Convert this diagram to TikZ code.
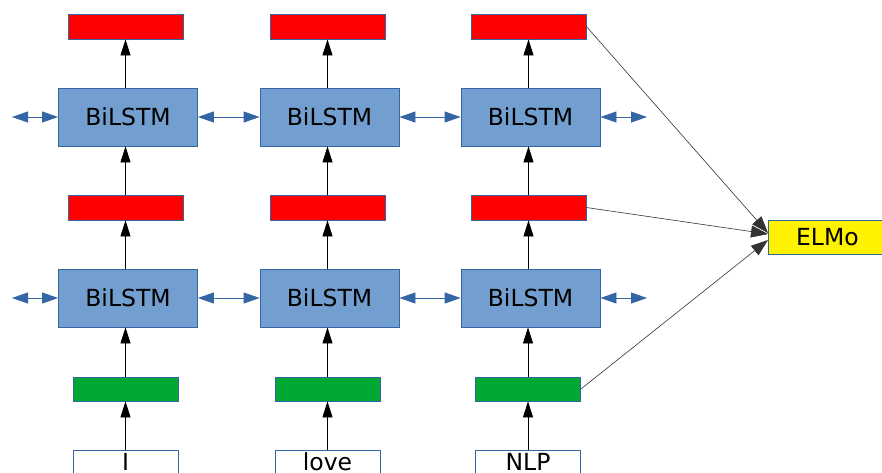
\documentclass[tikz,border=0pt]{standalone}
\usepackage{fontspec}
\setmainfont{DejaVu Sans}
\usetikzlibrary{arrows.meta}
\definecolor{lstm}{HTML}{729FCF}
\definecolor{edge}{HTML}{3465A4}
\definecolor{gr}{HTML}{00A933}
\tikzset{
 base/.style={draw=edge, line width=0.8pt, inner sep=0pt, font=\fontsize{23.5}{28}\selectfont},
 lstmbox/.style={base, fill=lstm, minimum width=139pt, minimum height=58pt},
 redbox/.style={base, fill=red, minimum width=115pt, minimum height=25pt},
 grbox/.style={base, fill=gr, minimum width=105pt, minimum height=24pt},
 wordbox/.style={base, fill=white, minimum width=105pt, anchor=north, text height=17pt, text depth=0pt, inner ysep=3pt},
 elmobox/.style={base, fill=yellow, minimum width=118pt, minimum height=34pt, anchor=west},
 up/.style={-{Triangle[length=16pt,width=10pt]}, line width=0.8pt, black},
 lat/.style={{Triangle[length=16pt,width=11pt]}-{Triangle[length=16pt,width=11pt]}, line width=0.8pt, edge},
 toelmo/.style={-{Triangle[length=17pt,width=12pt]}, line width=0.6pt, black!80},
}
\begin{document}
\begin{tikzpicture}[x=1pt,y=-1pt]
\useasboundingbox (0,0) rectangle (882,472);
% columns
\foreach \i/\rx/\bx/\gx in {1/125.5/128/125.5, 2/327.5/329.5/327.5, 3/528.5/530.5/528}{
  \node[redbox] (ru\i) at (\rx,26.5) {};
  \node[lstmbox] (bu\i) at (\bx,117) {BiLSTM};
  \node[redbox] (rm\i) at (\rx,207.5) {};
  \node[lstmbox] (bl\i) at (\bx,298) {BiLSTM};
  \node[grbox] (g\i) at (\gx,389) {};
}
\node[wordbox] (w1) at (125.5,450) {I};
\node[wordbox] (w2) at (327.5,450) {love};
\node[wordbox] (w3) at (528,450) {NLP};
\node[elmobox] (elmo) at (768,237) {ELMo};
% vertical arrows
\foreach \i in {1,2,3}{
  \draw[up] (ru\i.south |- bu\i.north) -- (ru\i.south);
  \draw[up] (rm\i.north) -- (rm\i.north |- bu\i.south);
  \draw[up] (rm\i.south |- bl\i.north) -- (rm\i.south);
  \draw[up] (g\i.north) -- (g\i.north |- bl\i.south);
  \draw[up] (w\i.north) -- (g\i.south);
}
% lateral arrows
\coordinate (lu) at (12,117);
\coordinate (ll) at (12,298);
\coordinate (eu) at (647,117);
\coordinate (el) at (647,298);
\draw[lat] (lu) -- (bu1.west);
\draw[lat] (bu1.east) -- (bu2.west);
\draw[lat] (bu2.east) -- (bu3.west);
\draw[lat] (bu3.east) -- (eu);
\draw[lat] (ll) -- (bl1.west);
\draw[lat] (bl1.east) -- (bl2.west);
\draw[lat] (bl2.east) -- (bl3.west);
\draw[lat] (bl3.east) -- (el);
% to ELMo
\draw[toelmo] (ru3.east) -- ([yshift=4pt]elmo.west);
\draw[toelmo] (rm3.east) -- ([yshift=3pt]elmo.west);
\draw[toelmo] (g3.east) -- ([yshift=-3pt]elmo.west);
\end{tikzpicture}
\end{document}
